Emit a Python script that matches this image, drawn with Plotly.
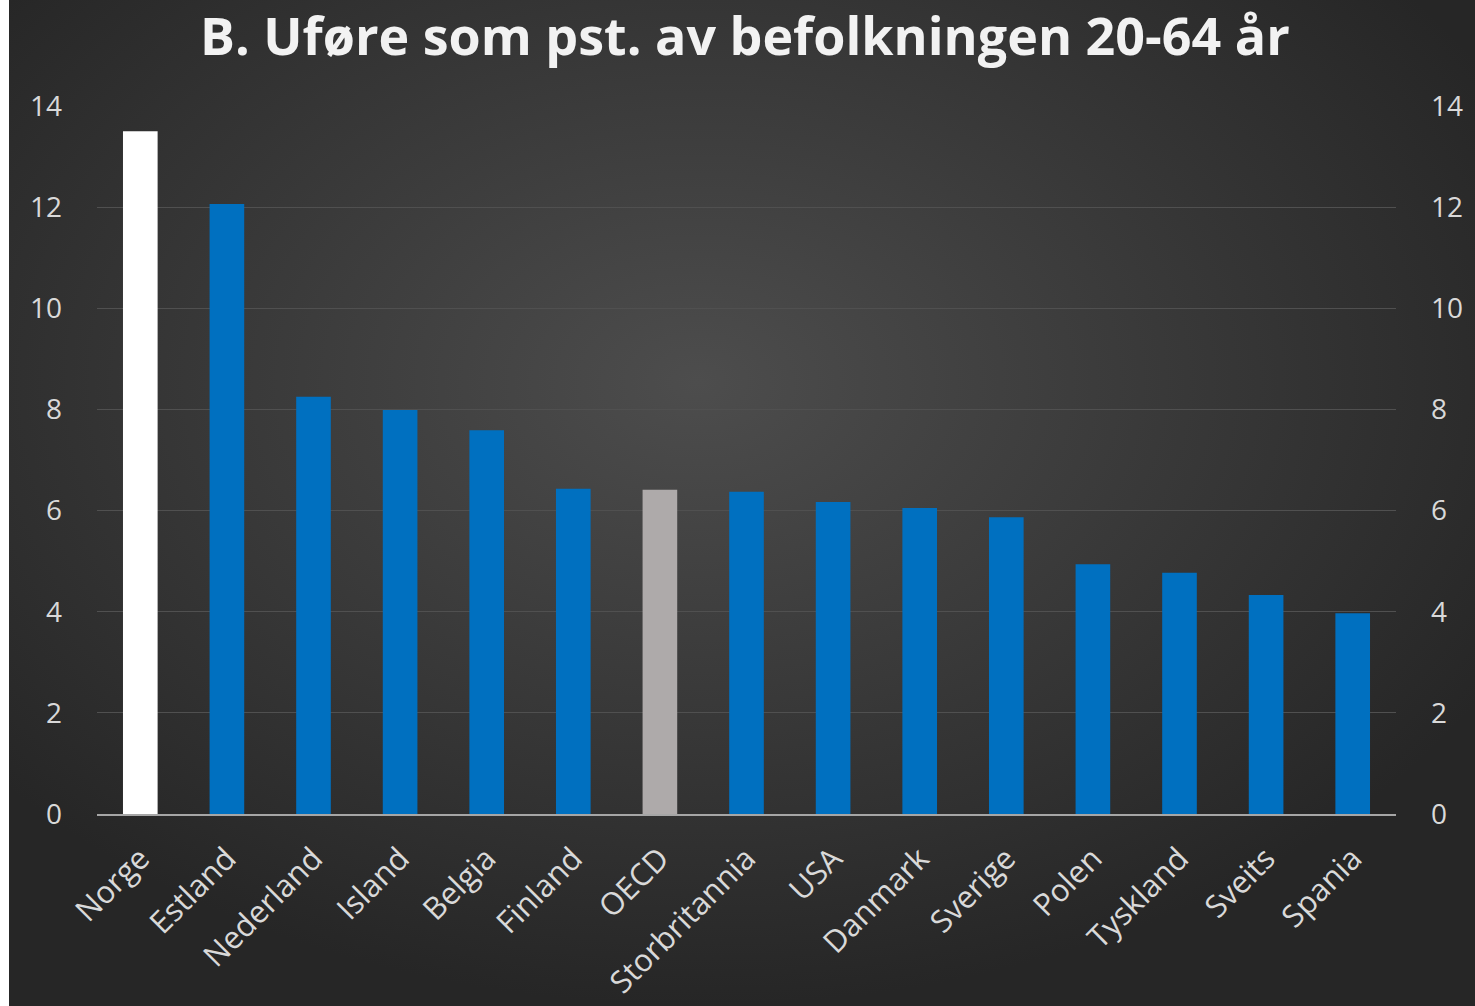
import base64
import plotly.graph_objects as go

countries = ["Norge", "Estland", "Nederland", "Island", "Belgia", "Finland", "OECD",
             "Storbritannia", "USA", "Danmark", "Sverige", "Polen", "Tyskland", "Sveits", "Spania"]
values = [13.5, 12.06, 8.25, 7.99, 7.59, 6.43, 6.41, 6.37, 6.17, 6.05, 5.87, 4.94, 4.77, 4.33, 3.97]
bar_colors = ["#FFFFFF", "#0070C0", "#0070C0", "#0070C0", "#0070C0", "#0070C0", "#AEAAAA",
              "#0070C0", "#0070C0", "#0070C0", "#0070C0", "#0070C0", "#0070C0", "#0070C0", "#0070C0"]
y_ticks = [0, 2, 4, 6, 8, 10, 12, 14]
title_text = "B. Uføre som pst. av befolkningen 20-64 år"

W, H = 1475, 1006
L, R, T, B = 97, 79, 106, 192
pw, ph = W - L - R, H - T - B

svg = f'''<svg xmlns="http://www.w3.org/2000/svg" width="{W-9}" height="{H}" viewBox="0 0 {W-9} {H}">
<defs><radialGradient id="g" cx="0.47" cy="0.38" r="0.62">
<stop offset="0" stop-color="#4d4d4d"/><stop offset="1" stop-color="#262626"/></radialGradient></defs>
<rect width="100%" height="100%" fill="url(#g)"/></svg>'''
bg_uri = "data:image/svg+xml;base64," + base64.b64encode(svg.encode()).decode()

fig = go.Figure()
fig.add_trace(go.Bar(x=countries, y=values, marker=dict(color=bar_colors, line=dict(width=0)),
                     hoverinfo="x+y", showlegend=False))
fig.add_trace(go.Scatter(x=countries, y=values, yaxis="y2", mode="markers",
                         marker=dict(opacity=0, size=1), hoverinfo="skip", showlegend=False))

font_main = "Open Sans"
tick_font = dict(family=font_main, size=28, color="#D9D9D9")
xtick_font = dict(family=font_main, size=31, color="#D9D9D9")

fig.update_layout(
    width=W, height=H,
    margin=dict(l=L, r=R, t=T, b=B, pad=0, autoexpand=False),
    paper_bgcolor="#FFFFFF",
    plot_bgcolor="rgba(0,0,0,0)",
    bargap=0.6,
    title=dict(text=title_text, x=0.505, xanchor="center", y=1 - 37 / H, yanchor="middle",
               font=dict(family=font_main, size=52, color="#F2F2F2", weight="bold")),
    xaxis=dict(range=[-0.5, len(countries) - 0.5], tickangle=-45, tickfont=xtick_font,
               showgrid=False, showline=True, linecolor="#A6A6A6", linewidth=2, ticks="",
               zeroline=False, fixedrange=True, ticklabelstandoff=12, automargin=False),
    yaxis=dict(range=[0, 14], tickvals=y_ticks, tickfont=tick_font, showgrid=True,
               gridcolor="#505050", gridwidth=1, zeroline=False, showline=False,
               ticks="", ticklabelstandoff=34, automargin=False),
    yaxis2=dict(range=[0, 14], tickvals=y_ticks, tickfont=tick_font, overlaying="y", side="right",
                showgrid=False, zeroline=False, showline=False, ticks="", ticklabelstandoff=34,
                automargin=False),
    images=[dict(source=bg_uri, xref="paper", yref="paper",
                 x=(9 - L) / pw, y=(H - B) / ph, sizex=(W - 9) / pw, sizey=H / ph,
                 xanchor="left", yanchor="top", sizing="stretch", layer="below")],
)

fig.write_html("out.html", config={"displayModeBar": False},
               post_script="document.body.style.margin='0';document.body.style.overflow='hidden';")
